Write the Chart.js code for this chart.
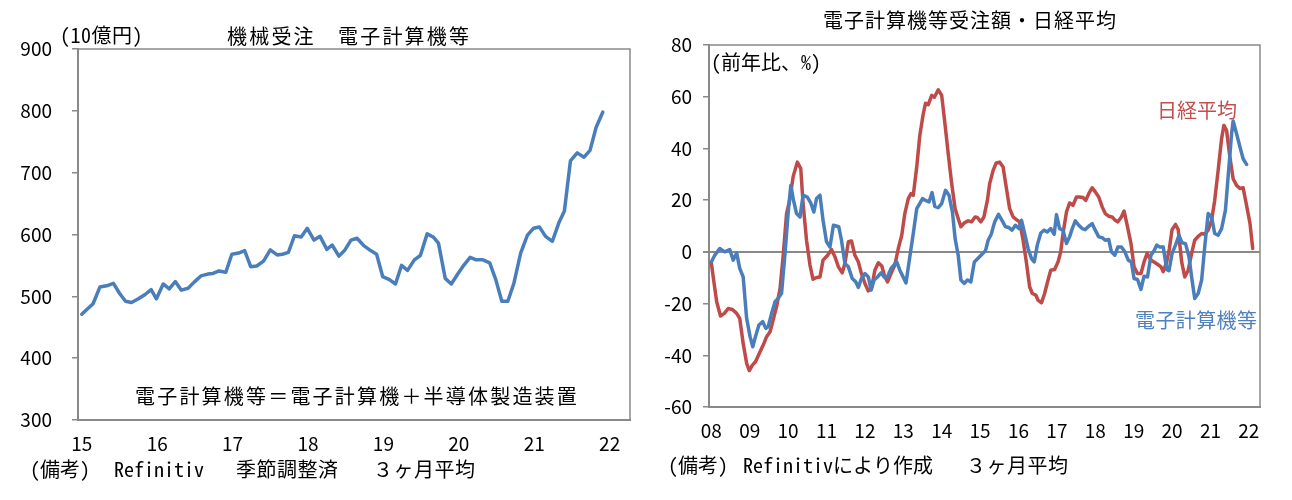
<!DOCTYPE html>
<html>
<head>
<meta charset="utf-8">
<script src="https://cdn.jsdelivr.net/npm/chart.js@4.4.1/dist/chart.umd.min.js"></script>
<style>
  body { margin: 0; background: #fff; }
  #wrap { position: relative; width: 1292px; height: 500px; overflow: hidden; font-family: "Noto Sans CJK JP", sans-serif; }
  canvas { position: absolute; top: 0; }
  #left { left: 0; }
  #right { left: 646px; }
  .t { position: absolute; white-space: nowrap; line-height: 1; font-size: 20px; color: #000; transform: translateY(-50%); }
  .mono { font-family: "Noto Sans Mono CJK JP", "DejaVu Sans Mono", "Noto Sans CJK JP", monospace; }
</style>
</head>
<body>
<div id="wrap">
  <canvas id="left" width="646" height="500"></canvas>
  <canvas id="right" width="646" height="500"></canvas>

  <div class="t" style="left:227px; top:36px; letter-spacing:2.2px;">機械受注　電子計算機等</div>
  <div class="t mono" style="left:60px; top:35px; letter-spacing:0.5px;">(10億円)</div>
  <div class="t" style="left:135px; top:396px; letter-spacing:2.2px;">電子計算機等＝電子計算機＋半導体製造装置</div>
  <div class="t mono" style="left:30px; top:469px;">(備考)</div>
  <div class="t mono" style="left:114px; top:469px;">Refinitiv</div>
  <div class="t" style="left:236px; top:469px; letter-spacing:0.5px;">季節調整済</div>
  <div class="t" style="left:373px; top:469px; letter-spacing:0.5px;">３ヶ月平均</div>

  <div class="t" style="left:823px; top:20px; letter-spacing:1px;">電子計算機等受注額・日経平均</div>
  <div class="t mono" style="left:711px; top:62px;">(前年比、%)</div>
  <div class="t" style="left:1157px; top:110px; color:#C0504D;">日経平均</div>
  <div class="t" style="left:1135px; top:320px; color:#4F81BD; letter-spacing:0.4px;">電子計算機等</div>
  <div class="t mono" style="left:668px; top:465px;">(備考)</div>
  <div class="t mono" style="left:743px; top:465px;">Refinitivにより作成</div>
  <div class="t" style="left:966px; top:465px; letter-spacing:0.5px;">３ヶ月平均</div>
</div>

<script>
// 機械受注 電子計算機等 (10億円, 季節調整済 3ヶ月平均)
const orderYears = [
  2015.00, 2015.06, 2015.15, 2015.24, 2015.33, 2015.42, 2015.50, 2015.58, 2015.66, 2015.75, 2015.84, 2015.92,
  2015.99, 2016.08, 2016.16, 2016.24, 2016.32, 2016.41, 2016.49, 2016.58, 2016.67, 2016.74, 2016.82, 2016.91,
  2016.99, 2017.08, 2017.16, 2017.24, 2017.32, 2017.41, 2017.50, 2017.59, 2017.66, 2017.74, 2017.82, 2017.91,
  2017.99, 2018.08, 2018.16, 2018.25, 2018.32, 2018.41, 2018.49, 2018.57, 2018.65, 2018.74, 2018.83, 2018.91,
  2018.99, 2019.08, 2019.16, 2019.24, 2019.32, 2019.41, 2019.49, 2019.58, 2019.66, 2019.73, 2019.82, 2019.90,
  2019.99, 2020.07, 2020.15, 2020.23, 2020.32, 2020.41, 2020.49, 2020.57, 2020.65, 2020.73, 2020.82, 2020.91,
  2020.99, 2021.07, 2021.15, 2021.24, 2021.33, 2021.40, 2021.48, 2021.57, 2021.66, 2021.74, 2021.82, 2021.91
];
const orderValues = [
  471, 478, 488, 515, 517, 521, 505, 492, 490, 496, 503, 511,
  496, 520, 512, 524, 510, 513, 523, 533, 536, 537, 541, 539,
  568, 570, 574, 548, 549, 557, 575, 567, 568, 571, 598, 596,
  610, 591, 597, 576, 583, 565, 575, 591, 594, 582, 574, 568,
  532, 527, 520, 550, 542, 559, 566, 601, 596, 586, 529, 520,
  537, 551, 563, 559, 559, 554, 527, 492, 492, 521, 570, 599,
  610, 612, 597, 589, 620, 638, 719, 732, 725, 736, 773, 798
];
const orderTicks = [2015, 2016, 2017, 2018, 2019, 2020, 2021, 2022];
const orderTickLabels = ['15', '16', '17', '18', '19', '20', '21', '22'];

// 電子計算機等受注額 (前年比 %)
const compYears = [
  2008.00, 2008.09, 2008.22, 2008.35, 2008.48, 2008.57, 2008.66, 2008.74, 2008.83, 2008.92,
  2009.01, 2009.08, 2009.15, 2009.24, 2009.34, 2009.42, 2009.48, 2009.57, 2009.66, 2009.74, 2009.83, 2009.92,
  2010.00, 2010.07, 2010.14, 2010.22, 2010.31, 2010.39, 2010.50, 2010.59, 2010.67, 2010.74, 2010.83, 2010.91,
  2011.00, 2011.09, 2011.18, 2011.32, 2011.39, 2011.48, 2011.57, 2011.67, 2011.76, 2011.83, 2011.91,
  2012.00, 2012.09, 2012.16, 2012.24, 2012.33, 2012.42, 2012.50, 2012.59, 2012.68, 2012.83, 2012.91,
  2013.07, 2013.17, 2013.26, 2013.35, 2013.43, 2013.50, 2013.58, 2013.67, 2013.75, 2013.82, 2013.91,
  2014.00, 2014.10, 2014.19, 2014.28, 2014.35, 2014.43, 2014.50, 2014.59, 2014.67, 2014.76, 2014.85, 2014.94,
  2015.05, 2015.14, 2015.21, 2015.29, 2015.38, 2015.48, 2015.57, 2015.66, 2015.75, 2015.83, 2015.92,
  2016.01, 2016.08, 2016.16, 2016.25, 2016.34, 2016.41, 2016.49, 2016.58, 2016.67, 2016.75, 2016.84, 2016.93,
  2016.99, 2017.07, 2017.16, 2017.25, 2017.33, 2017.40, 2017.48, 2017.57, 2017.66, 2017.74, 2017.83, 2017.92,
  2018.00, 2018.09, 2018.18, 2018.26, 2018.35, 2018.42, 2018.51, 2018.59, 2018.68, 2018.77, 2018.86, 2018.94,
  2019.01, 2019.10, 2019.19, 2019.27, 2019.36, 2019.45, 2019.53, 2019.60, 2019.68, 2019.77, 2019.86, 2019.92,
  2020.00, 2020.09, 2020.18, 2020.26, 2020.35, 2020.44, 2020.52, 2020.59, 2020.68, 2020.77, 2020.85, 2020.94,
  2021.03, 2021.11, 2021.20, 2021.29, 2021.39, 2021.48, 2021.55, 2021.59, 2021.68, 2021.77, 2021.85, 2021.94
];
const compValues = [
  -3.9, -1.3, 1.3, 0, 0.9, -3.2, -0.4, -6.4, -9.7, -25.7,
  -32.8, -36.7, -32.8, -28.3, -27, -29.6, -29, -23.8, -19.3, -18, -16, -0.6,
  14.8, 25.7, 20, 14.8, 13.5, 21.9, 21.2, 18.9, 15.4, 20.6, 21.9, 12.2,
  3.9, 1.9, 10.3, 9.7, 4.5, -4.5, -5.8, -10.3, -11.6, -13.8, -10.3,
  -8.4, -9.7, -14.8, -10.9, -9.7, -8.1, -9.7, -9.7, -6.4, -3.9, -7.1,
  -12, -1.9, 7.1, 16.7, 18.7, 20.6, 19.9, 19.3, 22.9, 17.6, 17.1,
  18.7, 23.8, 21.9, 15.4, 5.1, -1.3, -10.9, -12.2, -10.9, -11.6, -3.9, -2.6,
  -0.9, 0.4, 4.5, 6.8, 11.6, 14.5, 12.2, 9.7, 9.4, 8.4, 10.3,
  9, 12.2, 7.1, 1.3, -2.6, -3.9, 2.6, 7.3, 8.4, 7.7, 9, 6.8,
  14.4, 9, 8.4, 3.2, 5.8, 9, 12, 10.3, 9, 8.6, 9.9, 10.9,
  8.4, 5.8, 5.5, 4.5, 4.8, 0, -1.3, 1.9, 1.9, 0, -3.2, -3.9,
  -10.3, -10.7, -14.5, -9.4, -9.7, -1.3, 0.4, 2.6, 1.9, 1.9, -6.8, -7.3,
  -0.6, 2.6, 6.4, 3.5, 3.2, -1.9, -10.9, -18, -16.1, -10.9, 1.9, 14.8,
  13.5, 7.1, 6.4, 9, 16.1, 32.8, 45.7, 50.6, 45.7, 40.5, 36, 33.8
];

// 日経平均 (前年比 %)
const nikkeiYears = [
  2008.00, 2008.05, 2008.14, 2008.24, 2008.34, 2008.44, 2008.55, 2008.66, 2008.74, 2008.83, 2008.92, 2008.99,
  2009.07, 2009.15, 2009.27, 2009.37, 2009.44, 2009.53, 2009.61, 2009.70, 2009.79, 2009.87, 2009.96,
  2010.05, 2010.13, 2010.24, 2010.33, 2010.39, 2010.48, 2010.57, 2010.65, 2010.74, 2010.83, 2010.91,
  2011.03, 2011.13, 2011.22, 2011.31, 2011.41, 2011.48, 2011.57, 2011.65, 2011.74, 2011.83, 2011.91,
  2012.00, 2012.09, 2012.17, 2012.26, 2012.35, 2012.44, 2012.52, 2012.59, 2012.68, 2012.78, 2012.87, 2012.96,
  2013.04, 2013.13, 2013.20, 2013.26, 2013.35, 2013.43, 2013.52, 2013.58, 2013.65, 2013.74, 2013.81, 2013.91,
  2014.00, 2014.08, 2014.17, 2014.26, 2014.35, 2014.43, 2014.50, 2014.59, 2014.69, 2014.78, 2014.87, 2014.93,
  2015.02, 2015.10, 2015.19, 2015.25, 2015.34, 2015.42, 2015.51, 2015.60, 2015.68, 2015.77, 2015.86, 2015.94,
  2016.03, 2016.12, 2016.21, 2016.29, 2016.36, 2016.45, 2016.51, 2016.60, 2016.68, 2016.77, 2016.84, 2016.94,
  2017.03, 2017.10, 2017.16, 2017.25, 2017.33, 2017.42, 2017.51, 2017.59, 2017.68, 2017.75, 2017.83, 2017.92,
  2018.00, 2018.09, 2018.18, 2018.26, 2018.35, 2018.44, 2018.52, 2018.59, 2018.68, 2018.75, 2018.84, 2018.93,
  2019.01, 2019.10, 2019.19, 2019.27, 2019.35, 2019.45, 2019.53, 2019.62, 2019.71, 2019.77, 2019.86, 2019.93,
  2020.00, 2020.09, 2020.16, 2020.25, 2020.33, 2020.42, 2020.51, 2020.59, 2020.68, 2020.77, 2020.85, 2020.94,
  2021.03, 2021.11, 2021.20, 2021.29, 2021.35, 2021.42, 2021.50, 2021.59, 2021.68, 2021.77, 2021.85, 2021.94,
  2022.03, 2022.10
];
const nikkeiValues = [
  -4.2, -9.7, -19.3, -24.8, -23.8, -21.9, -22.3, -23.8, -25.7, -35.4, -43.1, -45.9,
  -43.8, -42.5, -38.6, -35.4, -32.8, -30.9, -26.4, -21.2, -14.2, -1.9, 14.8,
  20.6, 29, 34.7, 32.2, 18.7, 4.5, -5.1, -10.6, -9.9, -9.7, -3.2,
  -1.3, 0.9, -1.9, -5.8, -8.1, -4.5, 3.9, 4.2, -1.3, -3.9, -8.4,
  -12.2, -15.1, -14.2, -7.1, -4.2, -5.5, -9.7, -11.6, -8.4, -5.1, 1.3, 6.4,
  14.8, 20.6, 22.5, 21.9, 32.8, 45, 53.4, 57.5, 56.9, 60.5, 59.8, 62.7,
  60.5, 50.2, 38, 26.4, 16.7, 12.9, 9.7, 11.2, 12, 11.6, 13.5, 13.3,
  11.6, 13.5, 19.9, 26.4, 31.5, 34.4, 34.7, 32.8, 25.1, 16.7, 13.5, 12.5,
  11.6, 4.5, -4.5, -13.5, -16.1, -16.7, -18.7, -19.7, -16.1, -10.9, -7.1, -6.8,
  -3.9, 0, 7.1, 15.4, 18.9, 18, 21.2, 21.2, 21, 19.9, 22.5, 24.8,
  23.2, 21.2, 17.4, 14.8, 13.8, 13.5, 12.2, 11.6, 13.5, 15.8, 9.7, 3.2,
  -5.8, -8.4, -8.4, -3.9, -0.6, -3.2, -3.9, -4.8, -5.8, -7.7, -3.9, 1.3,
  8.6, 10.6, 8.6, -3.9, -9.7, -7.1, -0.6, 4.5, 6, 7.1, 6.8, 8.4,
  12.2, 19.9, 31.5, 43.8, 48.9, 46.9, 37.3, 28.3, 25.7, 24.5, 24.8, 18,
  10.9, 1.3
];
const rateTicks = [2008, 2009, 2010, 2011, 2012, 2013, 2014, 2015, 2016, 2017, 2018, 2019, 2020, 2021, 2022];
const rateTickLabels = ['08', '09', '10', '11', '12', '13', '14', '15', '16', '17', '18', '19', '20', '21', '22'];

const BLUE = '#4A7EBB';
const RED = '#BE4B48';
const AXIS = '#898989';
const tickFont = { family: '"Noto Sans CJK JP", sans-serif', size: 19 };

// 上と右の枠線
const frame = {
  id: 'frame',
  beforeDatasetsDraw(chart) {
    const { ctx, chartArea: a } = chart;
    ctx.save();
    ctx.strokeStyle = AXIS;
    ctx.lineWidth = 1.5;
    ctx.beginPath();
    ctx.moveTo(a.left, a.top);
    ctx.lineTo(a.right, a.top);
    ctx.lineTo(a.right, a.bottom);
    ctx.stroke();
    ctx.restore();
  }
};

function toPoints(xs, ys) {
  return xs.map((x, i) => ({ x: x, y: ys[i] }));
}

function lineSet(xs, ys, color) {
  return {
    data: toPoints(xs, ys),
    borderColor: color,
    borderWidth: 3.5,
    pointRadius: 0,
    tension: 0,
    borderJoinStyle: 'round',
    borderCapStyle: 'round'
  };
}

new Chart(document.getElementById('left'), {
  type: 'line',
  data: { datasets: [lineSet(orderYears, orderValues, BLUE)] },
  options: {
    responsive: false,
    animation: false,
    layout: { padding: { top: 49, right: 16, bottom: 40, left: 0 } },
    plugins: { legend: { display: false }, tooltip: { enabled: false } },
    scales: {
      x: {
        type: 'linear',
        min: 2014.95,
        max: 2022.27,
        afterBuildTicks: s => { s.ticks = orderTicks.map(v => ({ value: v })); },
        afterFit: s => { s.height = 40; },
        ticks: {
          color: '#000', font: tickFont, padding: 4, maxRotation: 0, autoSkip: false,
          callback: v => orderTickLabels[orderTicks.indexOf(v)]
        },
        grid: { display: false },
        border: { color: AXIS, width: 2 }
      },
      y: {
        min: 300,
        max: 900,
        afterFit: s => { s.width = 78; },
        ticks: { stepSize: 100, color: '#000', font: tickFont, padding: 20 },
        grid: { drawOnChartArea: false, tickLength: 6, color: AXIS, lineWidth: 1.5 },
        border: { color: AXIS, width: 2 }
      }
    }
  },
  plugins: [frame]
});

new Chart(document.getElementById('right'), {
  type: 'line',
  data: {
    datasets: [
      lineSet(compYears, compValues, BLUE),
      lineSet(nikkeiYears, nikkeiValues, RED)
    ]
  },
  options: {
    responsive: false,
    animation: false,
    layout: { padding: { top: 45, right: 32, bottom: 53, left: 0 } },
    plugins: { legend: { display: false }, tooltip: { enabled: false } },
    scales: {
      x: {
        type: 'linear',
        min: 2007.94,
        max: 2022.29,
        afterBuildTicks: s => { s.ticks = rateTicks.map(v => ({ value: v })); },
        afterFit: s => { s.height = 40; },
        ticks: {
          color: '#000', font: tickFont, padding: 4, maxRotation: 0, autoSkip: false,
          callback: v => rateTickLabels[rateTicks.indexOf(v)]
        },
        grid: { display: false },
        border: { color: AXIS, width: 2 }
      },
      y: {
        min: -60,
        max: 80,
        afterFit: s => { s.width = 63; },
        ticks: { stepSize: 20, color: '#000', font: tickFont, padding: 11 },
        grid: {
          drawOnChartArea: true,
          tickLength: 6,
          color: c => (c.tick && c.tick.value === 0 ? AXIS : 'rgba(0,0,0,0)'),
          tickColor: AXIS,
          lineWidth: c => (c.tick && c.tick.value === 0 ? 2 : 1.5)
        },
        border: { color: AXIS, width: 2 }
      }
    }
  },
  plugins: [frame]
});
</script>
</body>
</html>
